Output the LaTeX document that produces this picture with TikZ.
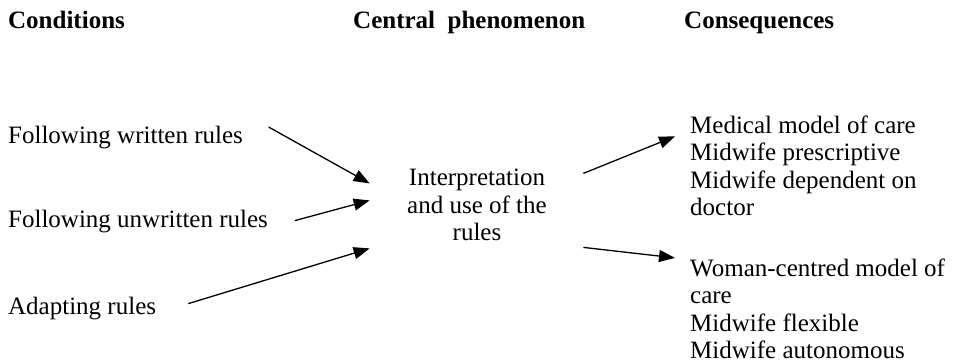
\documentclass[tikz,border=0pt]{standalone}
\usepackage{fontspec}
\setmainfont{Liberation Serif}
\usepackage{tikz}
\usetikzlibrary{arrows.meta}
\tikzset{
	txt/.style={inner sep=0pt, font=\fontsize{25}{27.3}\selectfont},
	head/.style={txt, anchor=base west, font=\fontsize{25}{27.3}\selectfont\bfseries},
	arr/.style={line width=1.3pt, -{Triangle[length=16pt,width=12pt]}}
}

\begin{document}
\begin{tikzpicture}[x=1pt, y=1pt]
			%%%%% START %%%%%
			
			\useasboundingbox (0, 0) rectangle (956, 364);
			
			\node[head] (cond) at (8, 335) {Conditions};
			\node[head] (phen) at (353, 335) {Central~ phenomenon};
			\node[head] (cons) at (684, 335) {Consequences};
			
			\node[txt, anchor=base west] (fwr) at (8, 220) {Following written rules};
			\node[txt, anchor=base west] (fur) at (8, 136) {Following unwritten rules};
			\node[txt, anchor=base west] (adr) at (8, 49) {Adapting rules};
			
			\node[txt, anchor=north, align=center] (cen) at (477, 195) {Interpretation\\and use of the\\rules};
			
			\node[txt, anchor=north west, align=left] (med) at (690, 248.4) {Medical model of care\\Midwife prescriptive\\Midwife dependent on\\doctor};
			\node[txt, anchor=north west, align=left] (wom) at (690, 105.4) {Woman-centred model of\\care\\Midwife flexible\\Midwife autonomous};
			
			\draw[arr] ([shift={(25.5, 11)}]fwr.east) -- ([shift={(-37.4, 21.5)}]cen.west);
			\draw[arr] ([shift={(26.7, 1.4)}]fur.east) -- ([shift={(-37.4, 4.5)}]cen.west);
			\draw[arr] ([shift={(32, 5.4)}]adr.east) -- ([shift={(-37.4, -43.5)}]cen.west);
			
			\draw[arr] ([shift={(36.4, 31.5)}]cen.east) -- ([shift={(-15, 29.3)}]med.west);
			\draw[arr] ([shift={(36.4, -42.5)}]cen.east) -- ([shift={(-15, 50.8)}]wom.west);
			
			%%%%% END %%%%%
		\end{tikzpicture}
\end{document}
